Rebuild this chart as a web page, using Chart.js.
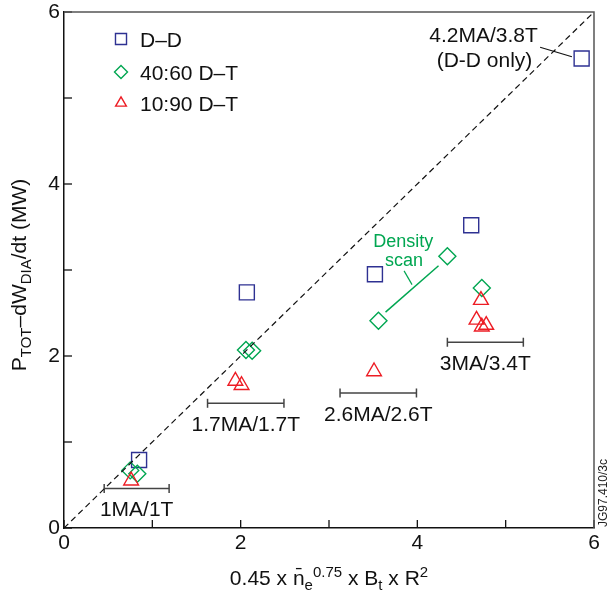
<!DOCTYPE html>
<html>
<head>
<meta charset="utf-8">
<script src="https://cdn.jsdelivr.net/npm/chart.js@4.4.1/dist/chart.umd.min.js"></script>
<style>
  html, body { margin: 0; padding: 0; background: #fff; }
  #wrap { width: 610px; height: 599px; }
</style>
</head>
<body>
<div id="wrap"><canvas id="chart" width="610" height="599"></canvas></div>
<script>
// values
const seriesNames = ['D–D', '40:60 D–T', '10:90 D–T'];

const ddX = [0.85, 2.07, 3.52, 4.61, 5.86];
const ddY = [0.79, 2.74, 2.95, 3.52, 5.46];

const dt40X = [0.75, 0.83, 2.06, 2.13, 3.56, 4.34, 4.73];
const dt40Y = [0.67, 0.63, 2.07, 2.06, 2.41, 3.16, 2.79];

const dt10X = [0.76, 1.94, 2.01, 3.51, 4.72, 4.67, 4.73, 4.78];
const dt10Y = [0.55, 1.71, 1.66, 1.82, 2.65, 2.42, 2.34, 2.36];

// current/field ranges
const rangeNames = ['1MA/1T', '1.7MA/1.7T', '2.6MA/2.6T', '3MA/3.4T'];
const rangeFrom = [0.455, 1.625, 3.125, 4.34];
const rangeTo = [1.19, 2.49, 3.99, 5.20];
const rangeY = [0.46, 1.45, 1.57, 2.16];

// annotations
const scanLineX = [3.64, 4.24];
const scanLineY = [2.51, 3.05];
const scanLeadX = [3.85, 3.94];
const scanLeadY = [2.99, 2.83];
const scanText = ['Density', 'scan'];
const scanTextX = [3.84, 3.85];
const scanTextY = [3.33, 3.11];

const ddOnlyText = ['4.2MA/3.8T', '(D-D only)'];
const ddOnlyTextX = [4.75, 4.76];
const ddOnlyTextY = [5.72, 5.43];
const ddOnlyLeadX = [5.39, 5.75];
const ddOnlyLeadY = [5.59, 5.48];

const unityX = [0, 6];
const unityY = [0, 6];

const xMin = 0, xMax = 6, yMin = 0, yMax = 6;
const majorTicks = [0, 2, 4, 6];

const BLUE = '#2e3192', GREEN = '#00a651', RED = '#ed1c24';
const FONT = '"Liberation Sans", Arial, Helvetica, sans-serif';

const pts = (xs, ys) => xs.map((x, i) => ({ x: x, y: ys[i] }));

const datasets = [];
datasets.push({ label: 'unity', data: pts(unityX, unityY), showLine: true, borderColor: '#111', borderWidth: 1.2, borderDash: [6, 4], pointRadius: 0 });

rangeNames.forEach((n, i) => {
  datasets.push({ label: n, data: pts([rangeFrom[i], rangeTo[i]], [rangeY[i], rangeY[i]]), showLine: true,
    borderColor: '#444', borderWidth: 1.5, pointStyle: 'line', rotation: 90, pointRadius: 4.5,
    pointBorderColor: '#444', pointBorderWidth: 1.5 });
});

datasets.push({ label: 'scan', data: pts(scanLineX, scanLineY), showLine: true, borderColor: GREEN, borderWidth: 1.5, pointRadius: 0 });
datasets.push({ label: 'scanLead', data: pts(scanLeadX, scanLeadY), showLine: true, borderColor: GREEN, borderWidth: 1.2, pointRadius: 0 });
datasets.push({ label: 'ddLead', data: pts(ddOnlyLeadX, ddOnlyLeadY), showLine: true, borderColor: '#111', borderWidth: 1.2, pointRadius: 0 });

datasets.push({ label: seriesNames[2], data: pts(dt10X, dt10Y), showLine: false, pointStyle: 'triangle', pointRadius: 8.5,
  pointBorderColor: RED, pointBackgroundColor: 'rgba(0,0,0,0)', pointBorderWidth: 1.4 });
datasets.push({ label: seriesNames[1], data: pts(dt40X, dt40Y), showLine: false, pointStyle: 'rectRot', pointRadius: 8.5,
  pointBorderColor: GREEN, pointBackgroundColor: 'rgba(0,0,0,0)', pointBorderWidth: 1.4 });
datasets.push({ label: seriesNames[0], data: pts(ddX, ddY), showLine: false, pointStyle: 'rect', pointRadius: 10.6,
  pointBorderColor: BLUE, pointBackgroundColor: 'rgba(0,0,0,0)', pointBorderWidth: 1.4 });

function marker(ctx, style, x, y, r, color){
  ctx.save();
  ctx.strokeStyle = color; ctx.lineWidth = 1.4;
  ctx.beginPath();
  if (style === 'rect') { const s = r * Math.SQRT1_2; ctx.rect(x - s, y - s, 2 * s, 2 * s); }
  else if (style === 'rectRot') { ctx.moveTo(x - r, y); ctx.lineTo(x, y - r); ctx.lineTo(x + r, y); ctx.lineTo(x, y + r); ctx.closePath(); }
  else { const h = r * Math.sqrt(3) / 2; ctx.moveTo(x, y - r); ctx.lineTo(x + h, y + r / 2); ctx.lineTo(x - h, y + r / 2); ctx.closePath(); }
  ctx.stroke();
  ctx.restore();
}

// draws text with sub/superscripts; s: 0 normal, -1 sub, 1 sup
function richWidth(ctx, parts, big, small){
  let w = 0;
  parts.forEach(p => { ctx.font = (p.s ? small : big) + 'px ' + FONT; w += ctx.measureText(p.t).width; });
  return w;
}
function drawRich(ctx, parts, x, y, big, small){
  let cx = x - richWidth(ctx, parts, big, small) / 2;
  parts.forEach(p => {
    ctx.font = (p.s ? small : big) + 'px ' + FONT;
    const dy = p.s === -1 ? 5 : (p.s === 1 ? -8 : 0);
    ctx.fillText(p.t, cx, y + dy);
    cx += ctx.measureText(p.t).width;
  });
}

const xTitle = [{ t: '0.45 x n\u0304', s: 0 }, { t: 'e', s: -1 }, { t: '0.75', s: 1 }, { t: ' x B', s: 0 }, { t: 't', s: -1 }, { t: ' x R', s: 0 }, { t: '2', s: 1 }];
const yTitle = [{ t: 'P', s: 0 }, { t: 'TOT', s: -1 }, { t: '–dW', s: 0 }, { t: 'DIA', s: -1 }, { t: '/dt (MW)', s: 0 }];

const decor = {
  id: 'decor',
  afterDatasetsDraw(chart){
    const ctx = chart.ctx, xs = chart.scales.x, ys = chart.scales.y, a = chart.chartArea;
    ctx.save();
    // inward ticks
    ctx.strokeStyle = '#111'; ctx.lineWidth = 1.3;
    for (let v = xMin; v <= xMax; v++) {
      const px = xs.getPixelForValue(v);
      ctx.beginPath(); ctx.moveTo(px, a.bottom); ctx.lineTo(px, a.bottom - 8); ctx.stroke();
    }
    for (let v = yMin; v <= yMax; v++) {
      const py = ys.getPixelForValue(v);
      ctx.beginPath(); ctx.moveTo(a.left, py); ctx.lineTo(a.left + 8, py); ctx.stroke();
    }
    // frame top / right
    ctx.strokeStyle = '#555'; ctx.lineWidth = 1.5;
    ctx.beginPath(); ctx.moveTo(a.left, a.top); ctx.lineTo(a.right, a.top); ctx.lineTo(a.right, a.bottom); ctx.stroke();

    // range labels
    ctx.fillStyle = '#111'; ctx.textAlign = 'center'; ctx.textBaseline = 'middle';
    ctx.font = '21px ' + FONT;
    rangeNames.forEach((n, i) => {
      const px = xs.getPixelForValue((rangeFrom[i] + rangeTo[i]) / 2);
      const py = ys.getPixelForValue(rangeY[i]) + 22;
      ctx.fillText(n, px, py);
    });
    ddOnlyText.forEach((t, i) => ctx.fillText(t, xs.getPixelForValue(ddOnlyTextX[i]), ys.getPixelForValue(ddOnlyTextY[i])));
    ctx.fillStyle = GREEN; ctx.font = '18px ' + FONT;
    scanText.forEach((t, i) => ctx.fillText(t, xs.getPixelForValue(scanTextX[i]), ys.getPixelForValue(scanTextY[i])));

    // legend
    const styles = ['rect', 'rectRot', 'triangle'], cols = [BLUE, GREEN, RED], radii = [7.8, 6.5, 6.2];
    const my = [39, 72, 103];
    ctx.fillStyle = '#111'; ctx.textAlign = 'left'; ctx.textBaseline = 'alphabetic'; ctx.font = '21px ' + FONT;
    seriesNames.forEach((n, i) => {
      marker(ctx, styles[i], 121, my[i], radii[i], cols[i]);
      ctx.fillText(n, 140, my[i] + 8);
    });

    // axis titles
    ctx.fillStyle = '#111'; ctx.textAlign = 'left'; ctx.textBaseline = 'alphabetic';
    drawRich(ctx, xTitle, (a.left + a.right) / 2, 585, 21, 15);
    ctx.save();
    ctx.translate(26, 275); ctx.rotate(-Math.PI / 2);
    drawRich(ctx, yTitle, 0, 0, 21, 15);
    ctx.restore();

    // figure code
    ctx.save();
    ctx.font = '12px ' + FONT; ctx.fillStyle = '#222';
    ctx.translate(607, 527); ctx.rotate(-Math.PI / 2);
    ctx.fillText('JG97.410/3c', 0, 0);
    ctx.restore();
    ctx.restore();
  }
};

const tickCb = v => (majorTicks.includes(v) ? String(v) : '');

new Chart(document.getElementById('chart'), {
  type: 'scatter',
  data: { datasets: datasets },
  options: {
    responsive: false,
    animation: false,
    devicePixelRatio: 1,
    events: [],
    layout: { padding: { top: 6, right: 16, left: 0, bottom: 0 } },
    plugins: { legend: { display: false }, tooltip: { enabled: false } },
    scales: {
      x: {
        type: 'linear', min: xMin, max: xMax,
        grid: { display: false, drawTicks: false },
        border: { display: true, color: '#111', width: 1.5 },
        ticks: { stepSize: 1, callback: tickCb, color: '#111', padding: 3, maxRotation: 0, autoSkip: false, font: { family: FONT, size: 21 } },
        afterFit: s => { s.height = 71; s.paddingLeft = 0; s.paddingRight = 0; }
      },
      y: {
        type: 'linear', min: yMin, max: yMax,
        grid: { display: false, drawTicks: false },
        border: { display: true, color: '#111', width: 1.5 },
        ticks: { stepSize: 1, callback: tickCb, color: '#111', padding: 4, autoSkip: false, font: { family: FONT, size: 21 } },
        afterFit: s => { s.width = 64; s.paddingTop = 0; s.paddingBottom = 0; }
      }
    }
  },
  plugins: [decor]
});
</script>
</body>
</html>
